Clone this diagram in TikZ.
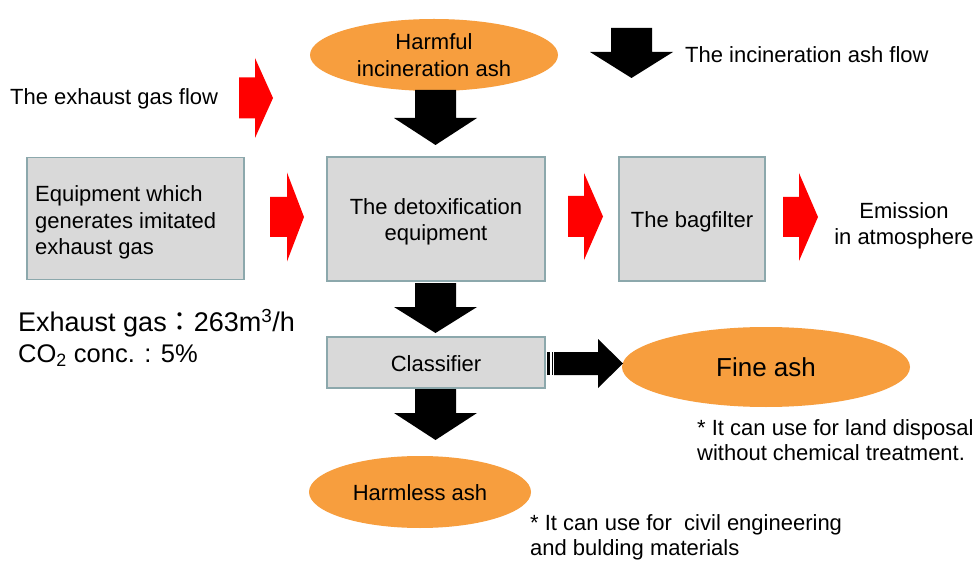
\documentclass[tikz,border=0pt]{standalone}
\usepackage{fontspec}
\usetikzlibrary{shapes.geometric}
\setmainfont{Liberation Sans}
\newfontfamily\cjkf{Noto Sans CJK JP}
\definecolor{ashorange}{RGB}{247,158,62}
\definecolor{boxfill}{RGB}{217,217,217}
\definecolor{boxline}{RGB}{140,168,172}
\newcommand\rarw[6]{\fill[red] (#1,#4-#5) -- (#2,#4-#5) -- (#2,#4-#6) -- (#3,#4) -- (#2,#4+#6) -- (#2,#4+#5) -- (#1,#4+#5) -- cycle;}
\newcommand\darw[6]{\fill[black] (#1-#5,#2) -- (#1+#5,#2) -- (#1+#5,#3) -- (#1+#6,#3) -- (#1,#4) -- (#1-#6,#3) -- (#1-#5,#3) -- cycle;}
\begin{document}
\begin{tikzpicture}[x=1pt,y=-1pt,
  equip/.style={draw=boxline,line width=1.8pt,fill=boxfill,inner sep=0pt},
  ash/.style={ellipse,fill=ashorange,inner sep=0pt},
  lbl/.style={font=\fontsize{22}{26.5}\selectfont,inner sep=0pt},
  note/.style={font=\fontsize{22}{25}\selectfont,inner sep=0pt,align=left,anchor=west}]
\useasboundingbox (0,0) rectangle (980,564);
\fill[white] (0,0) rectangle (980,564);
% ellipses
\node[ash,minimum width=248pt,minimum height=72pt] (harmful) at (434,55) {};
\node[lbl,align=center] at (harmful) {Harmful\\incineration ash};
\node[ash,minimum width=288pt,minimum height=80pt] (fine) at (766,367) {};
\node[font=\fontsize{26}{30}\selectfont,inner sep=0pt] at (fine) {Fine ash};
\node[ash,minimum width=222pt,minimum height=72pt] (harmless) at (420,492) {};
\node[lbl] at ([yshift=-1pt]harmless.center) {Harmless ash};
% boxes
\node[equip,minimum width=217pt,minimum height=122pt] (gen) at (135.5,218.5) {};
\node[lbl,align=left,anchor=west] at (35,222.5) {Equipment which\\generates imitated\\exhaust gas};
\node[equip,minimum width=218pt,minimum height=124pt] (detox) at (436,219) {};
\node[lbl,align=center] at ([yshift=-3pt]detox.center) {The detoxification\\equipment};
\node[equip,minimum width=146pt,minimum height=124pt] (bag) at (692,219) {};
\node[lbl] at ([yshift=-3pt]bag.center) {The bagfilter};
\node[equip,minimum width=218pt,minimum height=51pt] (cls) at (436,362.5) {};
\node[lbl] at ([yshift=-1pt]cls.center) {Classifier};
\node[lbl,align=center] (emis) at (904,226) {Emission\\in atmosphere};
% legend
\rarw{239}{255}{273}{98}{20.5}{40}
\node[lbl,anchor=west] (gaslegend) at (10,99) {The exhaust gas flow};
\darw{631.5}{28}{52}{78}{20.5}{41.5}
\node[lbl,anchor=west] (ashlegend) at (685,54.5) {The incineration ash flow};
% flow arrows
\rarw{270}{287}{304}{217}{20}{44.5}
\rarw{568}{584}{603}{216.5}{20.5}{43.5}
\rarw{783}{799}{818}{217}{20}{44}
\darw{435.5}{90}{118}{145}{20.5}{41.5}
\darw{435.5}{283}{307}{333}{20.5}{41.5}
\darw{435.5}{389}{413}{440}{20.5}{41.5}
% striped arrow
\fill[black] (547,352) rectangle (550,375);
\fill[black] (551.5,352) rectangle (553,375);
\fill[black] (554,352) -- (598,352) -- (598,339) -- (623,363.5) -- (598,388) -- (598,375) -- (554,375) -- cycle;
% notes
\node[note,font=\fontsize{27}{31}\selectfont] (cond) at (18,338) {Exhaust gas{\cjkf ：}263m\textsuperscript{3}/h\\\fontsize{25.5}{31}\selectfont CO\textsubscript{2} conc. : 5\%};
\node[note] (n1) at (697,440) {* It can use for land disposal\\without chemical treatment.};
\node[note] (n2) at (530,537.5) {* It can use for\ \ civil engineering\\and bulding materials};
\end{tikzpicture}
\end{document}
